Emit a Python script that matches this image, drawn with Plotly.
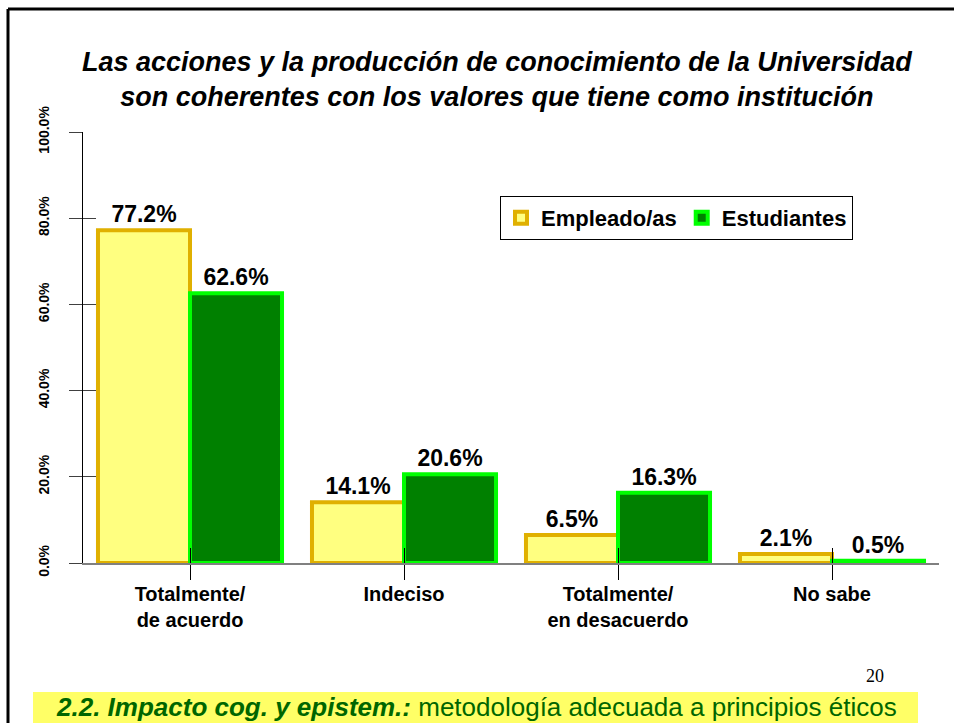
import plotly.graph_objects as go

categorias = ["Totalmente/<br>de acuerdo", "Indeciso", "Totalmente/<br>en desacuerdo", "No sabe"]
empleados = [77.2, 14.1, 6.5, 2.1]
estudiantes = [62.6, 20.6, 16.3, 0.5]
y_ticks = [0, 20, 40, 60, 80, 100]

W, H = 954, 723
ML, MR, MT, MB = 83, 15, 132, 160
PW, PH = W - ML - MR, H - MT - MB


def px2x(x):
    return (x - ML) / PW


def px2y(y):
    return (H - MB - y) / PH


fig = go.Figure()
fig.add_trace(go.Bar(
    x=categorias, y=empleados, name="Empleado/as",
    marker=dict(color="#FFFF80", line=dict(color="#E0B000", width=4)),
    texttemplate="%{y:.1f}%", textposition="outside",
    textfont=dict(size=23, color="black", weight="bold"), cliponaxis=False,
))
fig.add_trace(go.Bar(
    x=categorias, y=estudiantes, name="Estudiantes",
    marker=dict(color="#008000", line=dict(color="#00FF00", width=4)),
    texttemplate="%{y:.1f}%", textposition="outside",
    textfont=dict(size=23, color="black", weight="bold"), cliponaxis=False,
))
# ejes invisibles superpuestos para que las marcas crucen los ejes
fig.add_trace(go.Scatter(x=[categorias[0]], y=[0], xaxis="x2", yaxis="y2", mode="markers",
                         marker=dict(opacity=0), showlegend=False, hoverinfo="skip"))

fig.update_layout(
    width=W, height=H,
    margin=dict(l=ML, r=MR, t=MT, b=MB),
    paper_bgcolor="white", plot_bgcolor="white",
    font=dict(family="Arial, Liberation Sans, sans-serif", color="black"),
    barmode="group", bargap=0.14, bargroupgap=0,
    showlegend=True,
    legend=dict(
        orientation="h", x=px2x(500), y=px2y(196), xanchor="left", yanchor="top",
        bordercolor="black", borderwidth=1, bgcolor="white",
        font=dict(size=22, color="black", weight="bold"), itemwidth=30, tracegroupgap=0,
    ),
    xaxis=dict(
        showgrid=False, showline=True, linecolor="#808080", linewidth=2,
        ticks="outside", ticklen=15, tickcolor="black", tickwidth=1,
        tickfont=dict(size=20, color="black", weight="bold"), ticklabelstandoff=-3,
        range=[-0.5, 3.5], zeroline=False,
    ),
    xaxis2=dict(
        overlaying="x", matches="x", categoryarray=categorias, categoryorder="array",
        showticklabels=False, ticks="inside", ticklen=15, tickcolor="black",
        showgrid=False, showline=False, zeroline=False, side="bottom",
    ),
    yaxis=dict(
        range=[0, 100], tickvals=y_ticks, ticktext=[f"{v:.1f}%" for v in y_ticks],
        tickangle=-90, tickfont=dict(size=14, color="black", weight="bold"),
        showgrid=False, showline=True, linecolor="black", linewidth=1,
        ticks="outside", ticklen=13, tickcolor="#404040", ticklabelstandoff=14,
        zeroline=False,
    ),
    yaxis2=dict(
        overlaying="y", range=[0, 100], tickvals=y_ticks, showticklabels=False,
        ticks="inside", ticklen=13, tickcolor="#404040", showgrid=False,
        showline=False, zeroline=False, side="left",
    ),
)

# titulo
fig.add_annotation(
    text="<i>Las acciones y la producción de conocimiento de la Universidad<br>"
         "son coherentes con los valores que tiene como institución</i>",
    xref="paper", yref="paper", x=px2x(497), y=px2y(80),
    xanchor="center", yanchor="middle", showarrow=False,
    font=dict(size=27, color="black", weight="bold"),
)

# marco de la diapositiva y banda inferior
fig.add_shape(type="line", xref="paper", yref="paper",
              x0=px2x(8), x1=px2x(8), y0=px2y(9), y1=px2y(H), line=dict(color="black", width=3))
fig.add_shape(type="line", xref="paper", yref="paper",
              x0=px2x(8), x1=px2x(W), y0=px2y(9), y1=px2y(9), line=dict(color="black", width=3))
fig.add_shape(type="rect", xref="paper", yref="paper",
              x0=px2x(33), x1=px2x(918), y0=px2y(H), y1=px2y(692),
              fillcolor="#FFFF66", line=dict(width=0), layer="below")
fig.add_annotation(
    text="<b><i>2.2. Impacto cog. y epistem.:</i></b> metodología adecuada a principios éticos",
    xref="paper", yref="paper", x=px2x(476), y=px2y(707),
    xanchor="center", yanchor="middle", showarrow=False,
    font=dict(size=26, color="#006600"),
)
fig.add_annotation(
    text="20", xref="paper", yref="paper", x=px2x(875), y=px2y(676),
    xanchor="center", yanchor="middle", showarrow=False,
    font=dict(size=18, color="black", family="Liberation Serif, Times New Roman, serif"),
)

fig.write_html("out.html", config={"displayModeBar": False},
               post_script="document.body.style.margin='0';")
